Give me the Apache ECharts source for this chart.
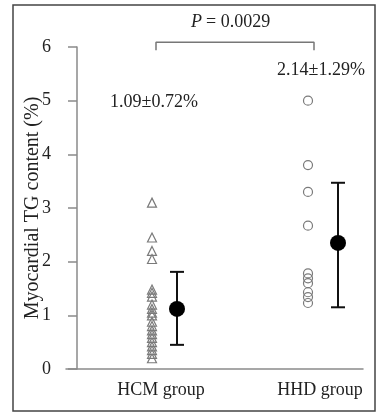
<!DOCTYPE html>
<html>
<head>
<meta charset="utf-8">
<script src="https://cdn.jsdelivr.net/npm/echarts@6/dist/echarts.min.js"></script>
<style>
  html, body { margin: 0; padding: 0; background: #fff; }
  #main { width: 379px; height: 413px; }
</style>
</head>
<body>
<div id="main"></div>
<script>
// groups and where they sit along the (hidden) x scale
const groups = ['HCM group', 'HHD group'];
const groupLabelX = [95, 254];
const pointsX = [86, 242];
const meanX = [111, 272];

// individual values
const hcmValues = [3.1, 2.45, 2.2, 2.05, 1.48, 1.42, 1.35, 1.2, 1.12, 1.05, 1.0,
  0.88, 0.8, 0.72, 0.65, 0.58, 0.5, 0.42, 0.35, 0.28, 0.2];
const hhdValues = [5.0, 3.8, 3.3, 2.67, 1.78, 1.69, 1.6, 1.43, 1.34, 1.23];

// mean and whisker ends as drawn
const means = [1.12, 2.35];
const lows = [0.45, 1.15];
const highs = [1.81, 3.47];

const yTicks = [0, 1, 2, 3, 4, 5, 6];
const summaryText = ['1.09\u00b10.72%', '2.14\u00b11.29%'];
const pText = '= 0.0029';

var chartDom = document.getElementById('main');
var myChart = echarts.init(chartDom);
var font = '"Liberation Serif", "DejaVu Serif", serif';

var option = {
  animation: false,
  backgroundColor: '#fff',
  grid: { left: 66, right: 16, top: 47, bottom: 44 },
  xAxis: {
    type: 'value',
    min: 0,
    max: 297,
    splitLine: { show: false },
    axisTick: { show: false },
    axisLine: { lineStyle: { color: '#8a8a8a', width: 1.5 } },
    axisLabel: {
      customValues: groupLabelX,
      margin: 12,
      color: '#222',
      fontFamily: font,
      fontSize: 18,
      formatter: function (v) {
        var i = groupLabelX.indexOf(v);
        return i >= 0 ? groups[i] : '';
      }
    }
  },
  yAxis: {
    type: 'value',
    min: yTicks[0],
    max: yTicks[yTicks.length - 1],
    interval: 1,
    offset: -11,
    name: 'Myocardial TG content (%)',
    nameLocation: 'middle',
    nameGap: 34,
    nameMoveOverlap: false,
    nameTextStyle: { color: '#222', fontFamily: font, fontSize: 20 },
    splitLine: { show: false },
    axisLine: { show: true, onZero: false, lineStyle: { color: '#8a8a8a', width: 1.5 } },
    axisTick: { show: true, length: 9, lineStyle: { color: '#8a8a8a', width: 1.5 } },
    axisLabel: { margin: 26, color: '#222', fontFamily: font, fontSize: 18 }
  },
  series: [
    {
      type: 'scatter',
      symbol: 'triangle',
      symbolSize: 9,
      itemStyle: { color: 'rgba(255,255,255,0)', borderColor: '#7a7a7a', borderWidth: 1.2, opacity: 1 },
      data: hcmValues.map(function (v) { return [pointsX[0], v]; })
    },
    {
      type: 'scatter',
      symbol: 'circle',
      symbolSize: 9,
      itemStyle: { color: 'rgba(255,255,255,0)', borderColor: '#7a7a7a', borderWidth: 1.2, opacity: 1 },
      data: hhdValues.map(function (v) { return [pointsX[1], v]; })
    },
    {
      // error bars
      type: 'custom',
      data: meanX.map(function (x, i) { return [x, lows[i], highs[i]]; }),
      renderItem: function (params, api) {
        var lo = api.coord([api.value(0), api.value(1)]);
        var hi = api.coord([api.value(0), api.value(2)]);
        var half = 7;
        var st = { stroke: '#111', lineWidth: 2 };
        return {
          type: 'group',
          children: [
            { type: 'line', shape: { x1: lo[0], y1: lo[1], x2: hi[0], y2: hi[1] }, style: st },
            { type: 'line', shape: { x1: lo[0] - half, y1: lo[1], x2: lo[0] + half, y2: lo[1] }, style: st },
            { type: 'line', shape: { x1: hi[0] - half, y1: hi[1], x2: hi[0] + half, y2: hi[1] }, style: st }
          ]
        };
      }
    },
    {
      type: 'scatter',
      symbol: 'circle',
      symbolSize: 16,
      itemStyle: { color: '#000', opacity: 1 },
      data: meanX.map(function (x, i) { return [x, means[i]]; }),
      z: 5
    },
    {
      // significance bracket
      type: 'line',
      clip: false,
      symbol: 'none',
      lineStyle: { color: '#777', width: 1.5 },
      data: [[pointsX[0] + 4, 5.94], [pointsX[0] + 4, 6.09], [pointsX[1] + 6, 6.09], [pointsX[1] + 6, 5.94]]
    }
  ],
  graphic: [
    {
      type: 'rect',
      shape: { x: 13, y: 5, width: 362, height: 406 },
      style: { fill: 'none', stroke: '#444', lineWidth: 1.5 },
      silent: true
    },
    {
      type: 'text', x: 154, y: 102,
      style: { text: summaryText[0], fontFamily: font, fontSize: 18, fill: '#222', align: 'center', verticalAlign: 'middle' }
    },
    {
      type: 'text', x: 321, y: 70,
      style: { text: summaryText[1], fontFamily: font, fontSize: 18, fill: '#222', align: 'center', verticalAlign: 'middle' }
    },
    {
      type: 'text', x: 191, y: 22,
      style: { text: 'P', fontFamily: font, fontStyle: 'italic', fontSize: 18, fill: '#222', align: 'left', verticalAlign: 'middle' }
    },
    {
      type: 'text', x: 206, y: 22,
      style: { text: pText, fontFamily: font, fontSize: 18, fill: '#222', align: 'left', verticalAlign: 'middle' }
    }
  ]
};

option && myChart.setOption(option);
</script>
</body>
</html>
